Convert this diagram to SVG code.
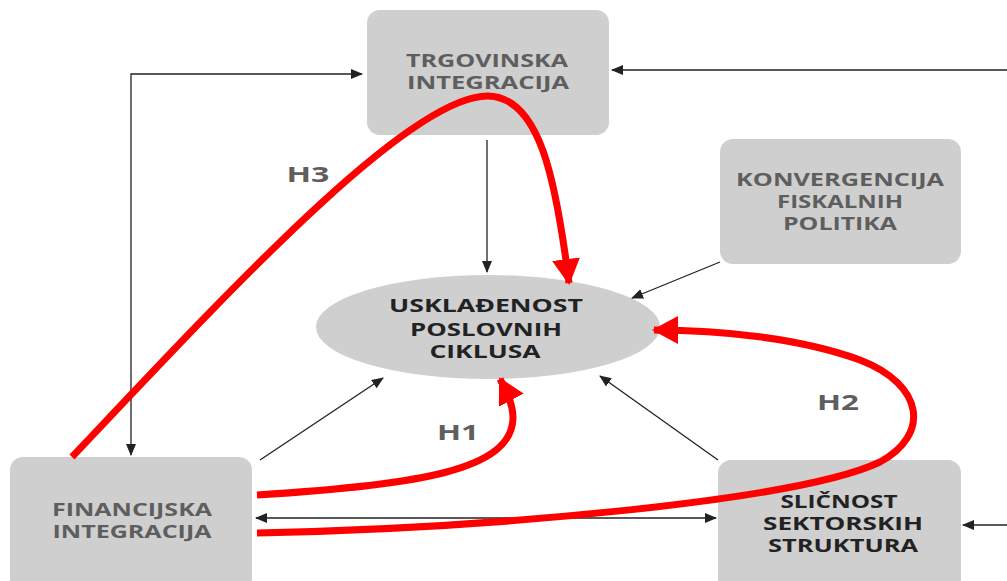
<svg xmlns="http://www.w3.org/2000/svg" width="1007" height="581" viewBox="0 0 1007 581">
<style>
.box{fill:#cfcfcf}
.t{font-family:"Open Sans","Liberation Sans",sans-serif;font-weight:bold;font-size:18px;text-anchor:middle}
.g{fill:#5e5e5e}
.d{fill:#222}
.thin{stroke:#222;stroke-width:1.3;fill:none}
.red{stroke:#ff0000;stroke-width:7;fill:none}
.lab{font-family:"Open Sans","Liberation Sans",sans-serif;font-weight:bold;font-size:21px;fill:#5e5e5e;text-anchor:middle}
</style>
<defs>
<marker id="ah" markerWidth="12" markerHeight="10" refX="11" refY="5" orient="auto" markerUnits="userSpaceOnUse"><path d="M0,0 L12,5 L0,10 Z" fill="#222"/></marker>
<marker id="as" markerWidth="12" markerHeight="10" refX="1" refY="5" orient="auto" markerUnits="userSpaceOnUse"><path d="M12,0 L0,5 L12,10 Z" fill="#222"/></marker>
<marker id="rh" markerWidth="26" markerHeight="28" refX="24" refY="14" orient="auto" markerUnits="userSpaceOnUse"><path d="M0,0 L26,14 L0,28 Z" fill="#ff0000"/></marker>
</defs>
<g id="trgovinska"><rect class="box" x="367" y="10" width="242" height="125" rx="13"/><text class="t g" x="487" y="67" textLength="162" lengthAdjust="spacingAndGlyphs">TRGOVINSKA</text><text class="t g" x="488" y="89" textLength="162" lengthAdjust="spacingAndGlyphs">INTEGRACIJA</text></g>
<g id="konvergencija"><rect class="box" x="720" y="139" width="241" height="125" rx="13"/><text class="t g" x="840" y="186" textLength="208" lengthAdjust="spacingAndGlyphs">KONVERGENCIJA</text><text class="t g" x="840" y="208" textLength="126" lengthAdjust="spacingAndGlyphs">FISKALNIH</text><text class="t g" x="840" y="230" textLength="114" lengthAdjust="spacingAndGlyphs">POLITIKA</text></g>
<g id="uskladenost"><ellipse cx="488" cy="327" rx="172" ry="52" fill="#cfcfcf"/><text class="t d" x="486" y="312" textLength="194" lengthAdjust="spacingAndGlyphs">USKLAĐENOST</text><text class="t d" x="486" y="336" textLength="152" lengthAdjust="spacingAndGlyphs">POSLOVNIH</text><text class="t d" x="485" y="358" textLength="111" lengthAdjust="spacingAndGlyphs">CIKLUSA</text></g>
<g id="financijska"><rect class="box" x="10" y="457" width="242" height="135" rx="13"/><text class="t g" x="132" y="516" textLength="160" lengthAdjust="spacingAndGlyphs">FINANCIJSKA</text><text class="t g" x="132" y="538" textLength="159" lengthAdjust="spacingAndGlyphs">INTEGRACIJA</text></g>
<g id="slicnost"><rect class="box" x="718" y="460" width="243" height="135" rx="13"/><text class="t d" x="839" y="508" textLength="117" lengthAdjust="spacingAndGlyphs">SLIČNOST</text><text class="t d" x="843" y="530" textLength="160" lengthAdjust="spacingAndGlyphs">SEKTORSKIH</text><text class="t d" x="843" y="552" textLength="150" lengthAdjust="spacingAndGlyphs">STRUKTURA</text></g>
<g id="connectors">
<path class="thin" d="M1007,70 L612,70" marker-end="url(#ah)"/>
<path class="thin" d="M487,140 L487,272" marker-end="url(#ah)"/>
<path class="thin" d="M362,74 L131,74 L131,455" marker-start="url(#as)" marker-end="url(#ah)"/>
<path class="thin" d="M720,262 L632,298" marker-end="url(#ah)"/>
<path class="thin" d="M260,460 L383,378" marker-end="url(#ah)"/>
<path class="thin" d="M718,460 L600,376" marker-end="url(#ah)"/>
<path class="thin" d="M256,518 L716,518" marker-start="url(#as)" marker-end="url(#ah)"/>
<path class="thin" d="M1007,525 L963,525" marker-end="url(#ah)"/>
<path class="red" d="M72,457 C230,290 410,95 488,96 C540,97 556,180 569,283" marker-end="url(#rh)"/>
<path class="red" d="M257,495 C420,485 512,470 513,418 C513,405 508,394 500,379" marker-end="url(#rh)"/>
<path class="red" d="M257,533 C500,528 800,500 880,462 C930,435 925,385 860,360 C800,338 720,330 654,330" marker-end="url(#rh)"/>
</g>
<text class="lab" x="308" y="182" textLength="43" lengthAdjust="spacingAndGlyphs">H3</text>
<text class="lab" x="458" y="440" textLength="42" lengthAdjust="spacingAndGlyphs">H1</text>
<text class="lab" x="838" y="410" textLength="42" lengthAdjust="spacingAndGlyphs">H2</text>
</svg>
